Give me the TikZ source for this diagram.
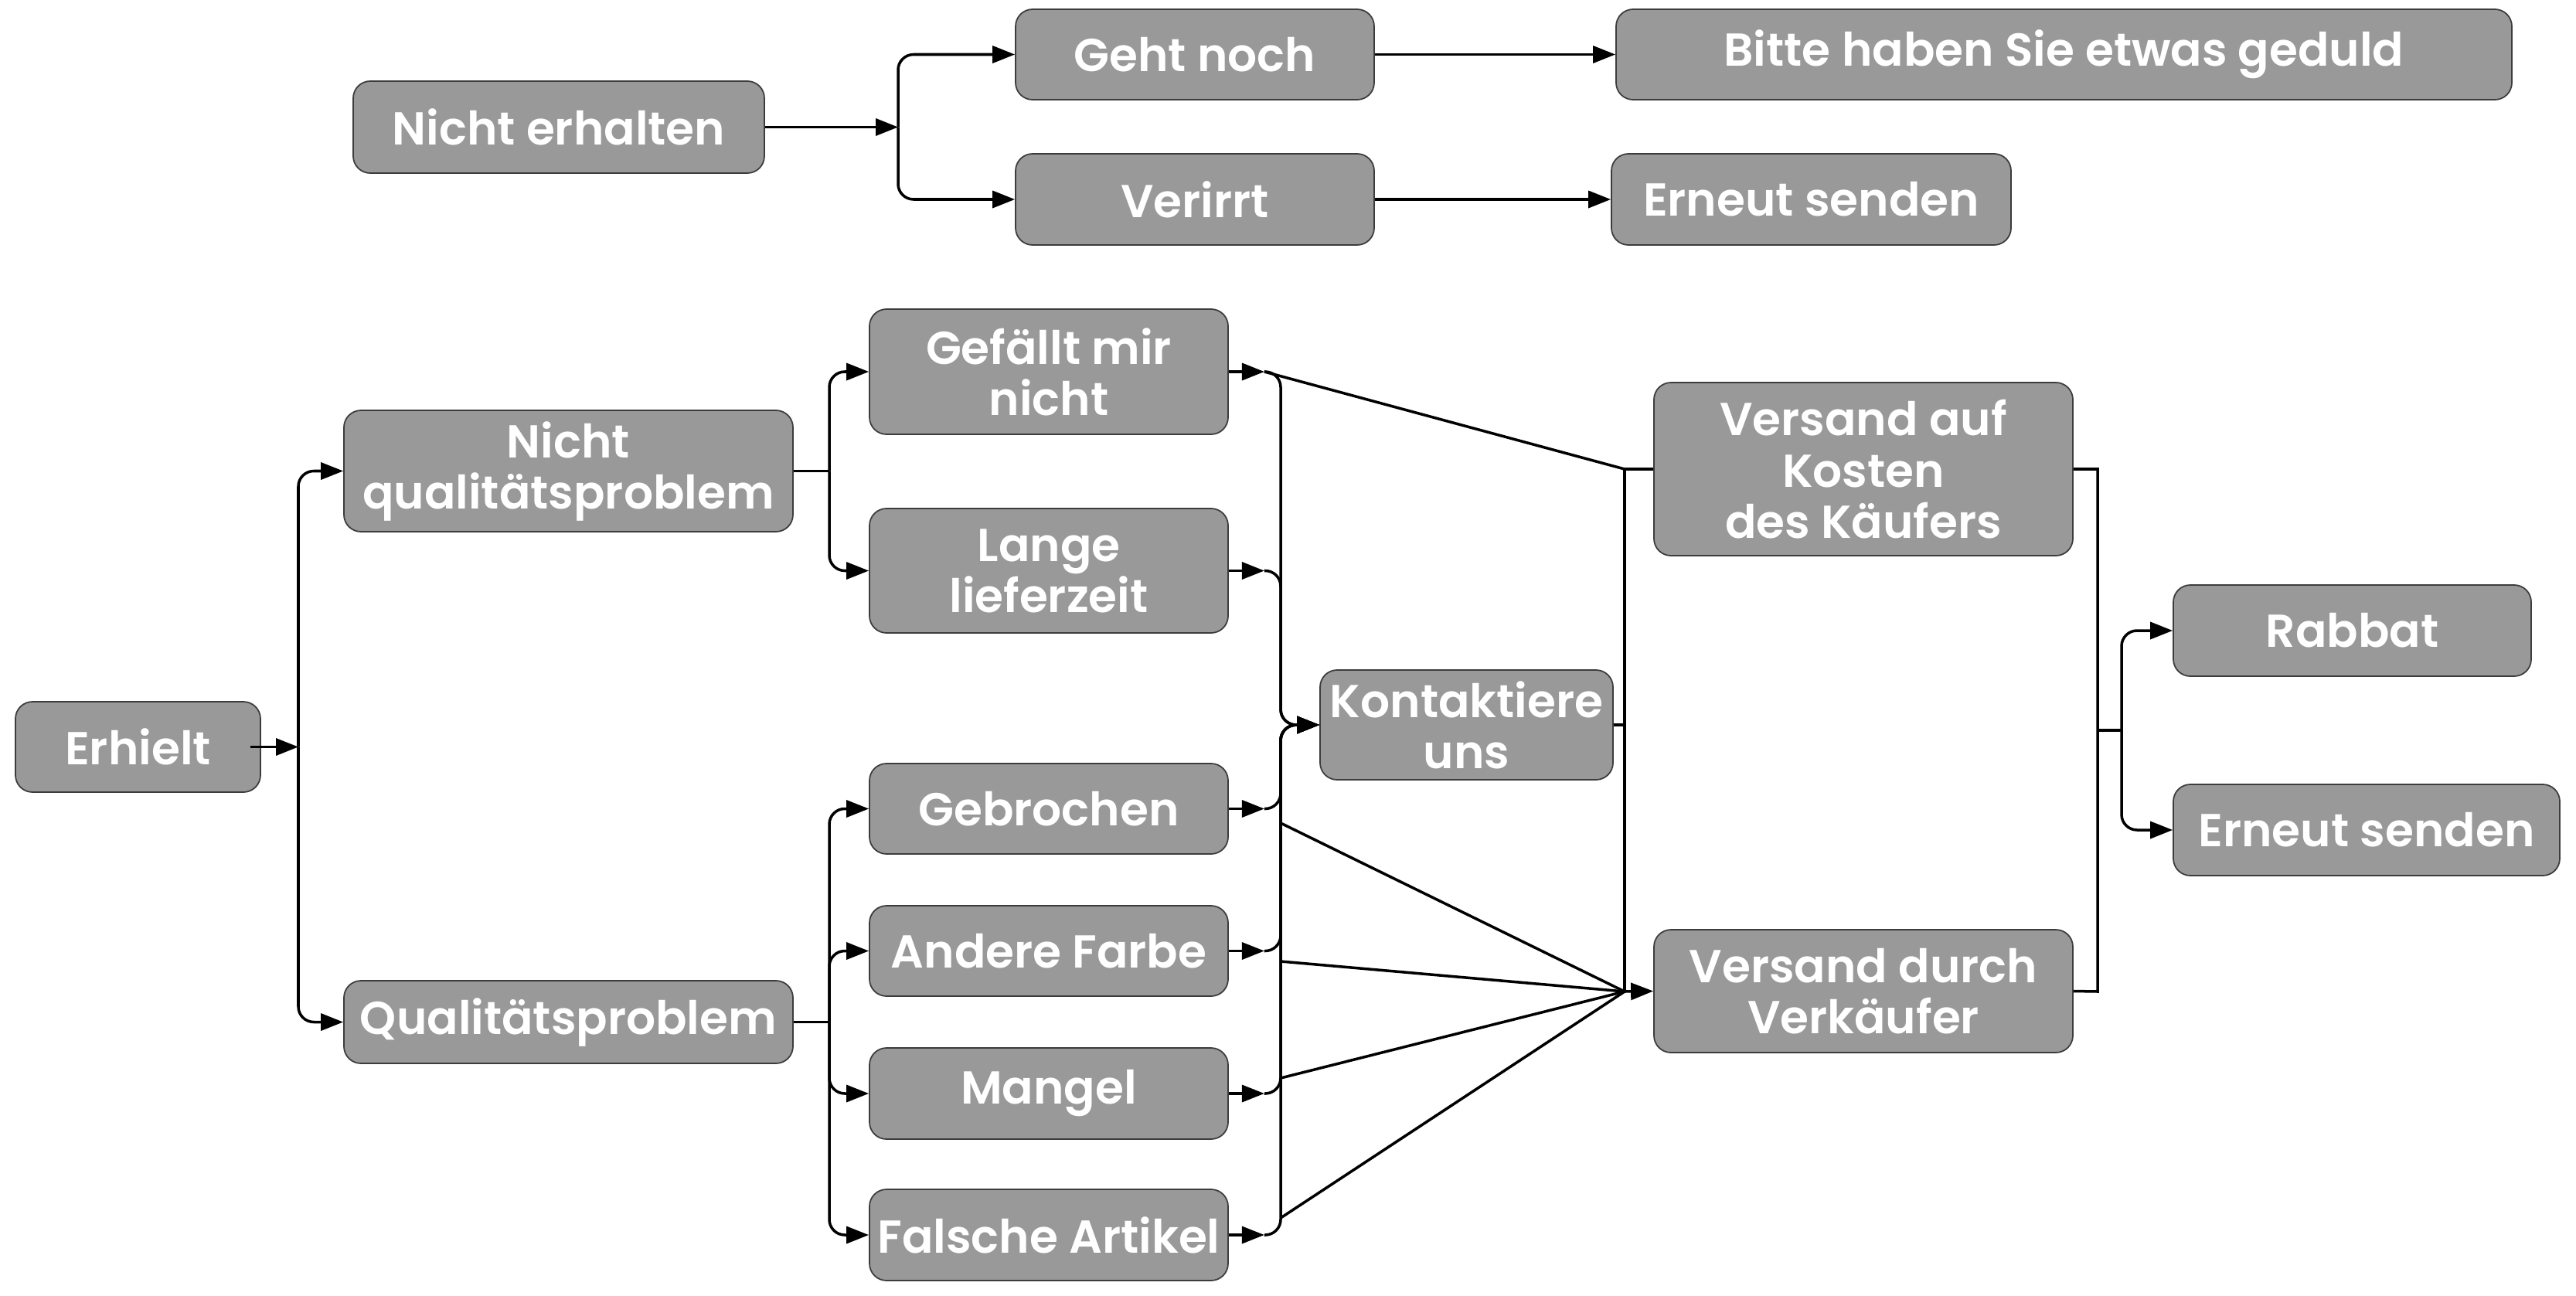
\documentclass[tikz,border=0pt]{standalone}
\usepackage{fontspec}
\setmainfont{Poppins}[UprightFont=* SemiBold]
\usetikzlibrary{arrows.meta}
\definecolor{boxgray}{RGB}{153,153,153}
\definecolor{boxline}{RGB}{60,60,60}
\begin{document}
\begin{tikzpicture}[x=1cm,y=1cm,
  box/.style={draw=boxline, line width=0.5pt, fill=boxgray, rounded corners=0.22cm, text=white, align=center, inner sep=0pt, font=\fontsize{17}{18.8}\selectfont},
  conn/.style={line width=1pt, draw=black},
  arr/.style={conn, -{Triangle[length=0.29cm,width=0.22cm]}},
]
\useasboundingbox (0,0) rectangle (33.33,-16.77);

% top part
\node[box, minimum width=5.32cm, minimum height=1.19cm] (nichterh) at (7.23,-1.645) {Nicht erhalten};
\node[box, minimum width=4.64cm, minimum height=1.17cm] (geht) at (15.46,-0.705) {Geht noch};
\node[box, minimum width=4.64cm, minimum height=1.18cm] (verirrt) at (15.46,-2.58) {Verirrt};
\node[box, minimum width=11.59cm, minimum height=1.17cm] (bitte) at (26.705,-0.705) {Bitte haben Sie etwas geduld};
\node[box, minimum width=5.17cm, minimum height=1.18cm] (erneut1) at (23.435,-2.58) {Erneut senden};

% lower part
\node[box, minimum width=3.17cm, minimum height=1.17cm] (erhielt) at (1.785,-9.665) {Erhielt};
\node[box, minimum width=5.81cm, minimum height=1.57cm] (nichtq) at (7.355,-6.095) {Nicht\\qualitätsproblem};
\node[box, minimum width=5.81cm, minimum height=1.07cm] (qual) at (7.355,-13.225) {Qualitätsproblem};
\node[box, minimum width=4.64cm, minimum height=1.62cm] (gefaellt) at (13.57,-4.81) {Gefällt mir\\nicht};
\node[box, minimum width=4.64cm, minimum height=1.61cm] (lange) at (13.57,-7.385) {Lange\\lieferzeit};
\node[box, minimum width=4.64cm, minimum height=1.17cm] (gebrochen) at (13.57,-10.465) {Gebrochen};
\node[box, minimum width=4.64cm, minimum height=1.17cm] (andere) at (13.57,-12.305) {Andere Farbe};
\node[box, minimum width=4.64cm, minimum height=1.18cm] (mangel) at (13.57,-14.15) {Mangel};
\node[box, minimum width=4.64cm, minimum height=1.18cm] (falsche) at (13.57,-15.98) {Falsche Artikel};
\node[box, minimum width=3.79cm, minimum height=1.42cm] (kontakt) at (18.975,-9.38) {Kontaktiere\\uns};
\node[box, minimum width=5.42cm, minimum height=2.24cm] (vkosten) at (24.11,-6.07) {Versand auf\\Kosten\\des Käufers};
\node[box, minimum width=5.42cm, minimum height=1.59cm] (vdurch) at (24.11,-12.825) {Versand durch\\Verkäufer};
\node[box, minimum width=4.63cm, minimum height=1.18cm] (rabbat) at (30.435,-8.16) {Rabbat};
\node[box, minimum width=5.00cm, minimum height=1.18cm] (erneut2) at (30.62,-10.74) {Erneut senden};

% junction coordinates
\coordinate (j0) at (11.62,-1.645);
\coordinate (j1) at (3.86,-9.665);
\coordinate (j2) at (10.73,-6.095);
\coordinate (j3) at (10.73,-13.225);
\coordinate (kin) at (16.57,-9.38);
\coordinate (jk) at (21.02,-6.07);
\coordinate (jv) at (21.02,-12.83);
\coordinate (jr1) at (27.14,-6.07);
\coordinate (jr2) at (27.14,-12.83);
\coordinate (jm) at (27.14,-9.45);
\coordinate (jn) at (27.45,-9.45);
\coordinate (d1) at (16.57,-10.65);
\coordinate (d2) at (16.57,-12.44);
\coordinate (d3) at (16.57,-13.95);
\coordinate (d4) at (16.57,-15.76);

% top connectors
\draw[arr] (nichterh.east) -- (j0);
\draw[arr, rounded corners=0.2cm] (j0) |- (geht.west);
\draw[arr, rounded corners=0.2cm] (j0) |- (verirrt.west);
\draw[arr] (geht.east) -- (bitte.west);
\draw[arr] (verirrt.east) -- (erneut1.west);

% left tree
\draw[arr] ([xshift=-0.14cm]erhielt.east) -- (j1);
\draw[arr, rounded corners=0.2cm] (j1) |- (nichtq.west);
\draw[arr, rounded corners=0.2cm] (j1) |- (qual.west);
\draw[conn] (nichtq.east) -- (j2);
\draw[arr, rounded corners=0.2cm] (j2) |- (gefaellt.west);
\draw[arr, rounded corners=0.2cm] (j2) |- (lange.west);
\draw[conn] (qual.east) -- (j3);
\draw[arr, rounded corners=0.2cm] (j3) |- (gebrochen.west);
\draw[arr, rounded corners=0.2cm] (j3) |- (andere.west);
\draw[arr, rounded corners=0.2cm] (j3) |- (mangel.west);
\draw[arr, rounded corners=0.2cm] (j3) |- (falsche.west);

% short arrows out of the middle column, then to Kontaktiere uns
\foreach \n in {gefaellt,lange,gebrochen,andere,mangel,falsche}{
  \draw[arr] (\n.east) -- ++(0.46,0) coordinate (\n-t);
  \draw[arr, rounded corners=0.2cm] (\n-t) -| (kin) -- (kontakt.west);
}

% diagonals
\draw[conn] (gefaellt-t) -- (jk);
\draw[conn] (d1) -- (jv);
\draw[conn] (d2) -- (jv);
\draw[conn] (d3) -- (jv);
\draw[conn] (d4) -- (jv);
\draw[conn] (jk) -- (vkosten.west);
\draw[conn] (jk) -- (jv);
\draw[arr] (jv) -- (vdurch.west);
\draw[conn] (kontakt.east) -- (kontakt.east -| jk);

% right bracket
\draw[conn] (vkosten.east) -- (jr1) -- (jr2) -- (vdurch.east);
\draw[conn] (jm) -- (jn);
\draw[arr, rounded corners=0.2cm] (jn) |- (rabbat.west);
\draw[arr, rounded corners=0.2cm] (jn) |- (erneut2.west);
\end{tikzpicture}
\end{document}
